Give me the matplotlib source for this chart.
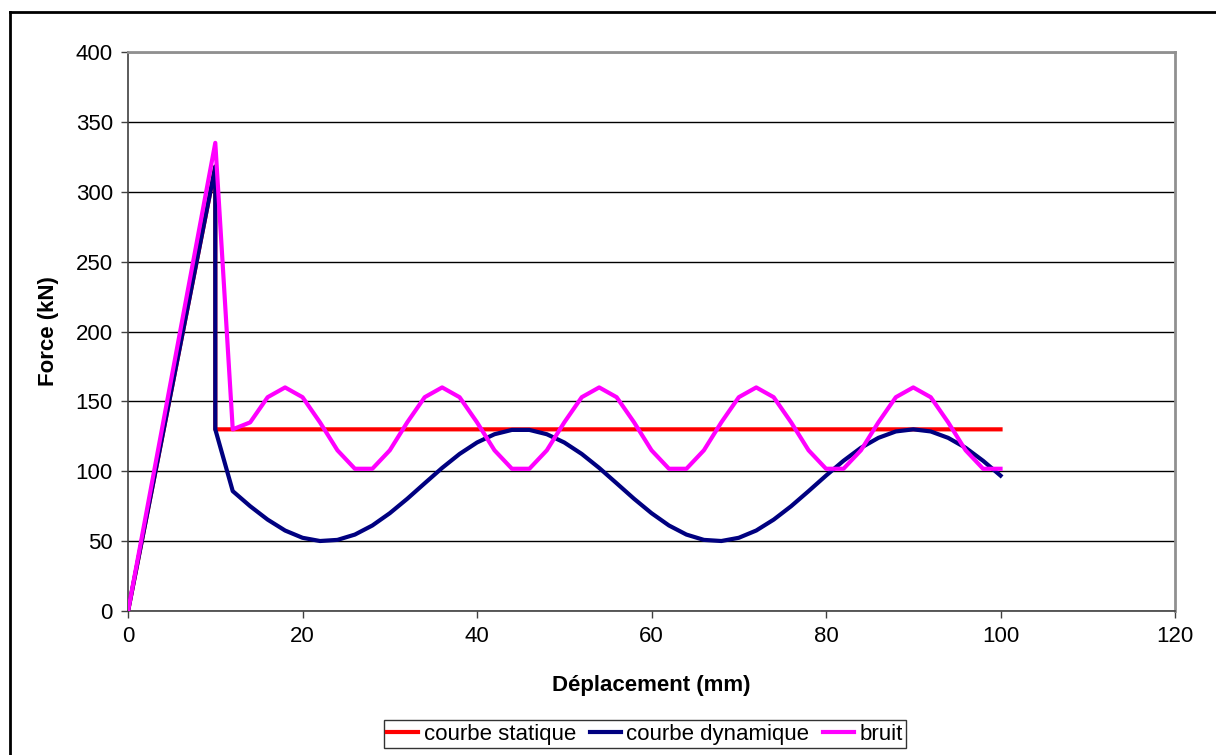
import matplotlib
matplotlib.use("Agg")
import matplotlib.pyplot as plt
from matplotlib.lines import Line2D

plt.rcParams['font.family'] = ['Liberation Sans', 'DejaVu Sans']

# courbe statique
x_stat = [0, 10, 10, 100]
y_stat = [0, 318, 130, 130]

# courbe dynamique
x_dyn = [0, 10, 10] + list(range(12, 101, 2))
y_dyn = [0, 318, 130,
         85.8, 75.0, 65.4, 57.6, 52.4, 50.1, 50.9, 54.7, 61.2, 70.0,
         80.3, 91.4, 102.4, 112.4, 120.6, 126.5, 129.6, 129.6, 126.5, 120.6,
         112.4, 102.4, 91.4, 80.3, 70.0, 61.2, 54.7, 50.9, 50.1, 52.4,
         57.6, 65.4, 75.0, 85.8, 96.9, 107.5, 116.8, 123.9, 128.5, 130.0,
         128.5, 123.9, 116.8, 107.5, 96.9]

# bruit
x_bruit = [0, 10] + list(range(12, 101, 2))
y_bruit = [0, 335, 130,
           135, 153, 160, 153, 135, 115, 101.8, 101.8, 115,
           135, 153, 160, 153, 135, 115, 101.8, 101.8, 115,
           135, 153, 160, 153, 135, 115, 101.8, 101.8, 115,
           135, 153, 160, 153, 135, 115, 101.8, 101.8, 115,
           135, 153, 160, 153, 135, 115, 101.8, 101.8]

fig = plt.figure(figsize=(12.16, 7.55), dpi=100)
ax = fig.add_axes([0.1053, 0.1907, 0.8610, 0.7404])

fs = 16
ax.plot(x_stat, y_stat, color='#ff0000', lw=3, label='courbe statique', zorder=3)
ax.plot(x_dyn, y_dyn, color='#000080', lw=3, label='courbe dynamique', zorder=4)
ax.plot(x_bruit, y_bruit, color='#ff00ff', lw=3, label='bruit', zorder=5)

ax.set_xlim(0, 120)
ax.set_ylim(0, 400)
ax.set_xticks(range(0, 121, 20))
ax.set_yticks(range(0, 401, 50))
ax.yaxis.grid(True, color='black', lw=1)
ax.set_axisbelow(True)
ax.tick_params(labelsize=fs, length=5, width=1, color='#404040', pad=6)

for s in ['left', 'bottom']:
    ax.spines[s].set_color('#404040')
    ax.spines[s].set_linewidth(1.2)
for s in ['top', 'right']:
    ax.spines[s].set_color('#909090')
    ax.spines[s].set_linewidth(2)

ax.set_xlabel('Déplacement (mm)', fontsize=fs, fontweight='bold', labelpad=20)
ax.set_ylabel('Force (kN)', fontsize=fs, fontweight='bold', labelpad=12)

leg = fig.legend(loc='center', bbox_to_anchor=(0.5304, 0.0278), ncol=3,
                 fontsize=fs, frameon=True, fancybox=False, edgecolor='black',
                 handlelength=1.4, handletextpad=0.25, columnspacing=0.6,
                 borderpad=0.15, borderaxespad=0)
leg.get_frame().set_linewidth(1)

# outer chart border (left and top visible)
fig.add_artist(Line2D([10 / 1216, 10 / 1216], [0, 1 - 12 / 755],
                      transform=fig.transFigure, color='black', lw=2))
fig.add_artist(Line2D([10 / 1216, 1], [1 - 12 / 755, 1 - 12 / 755],
                      transform=fig.transFigure, color='black', lw=2))

fig.savefig('out.png', dpi=100)
